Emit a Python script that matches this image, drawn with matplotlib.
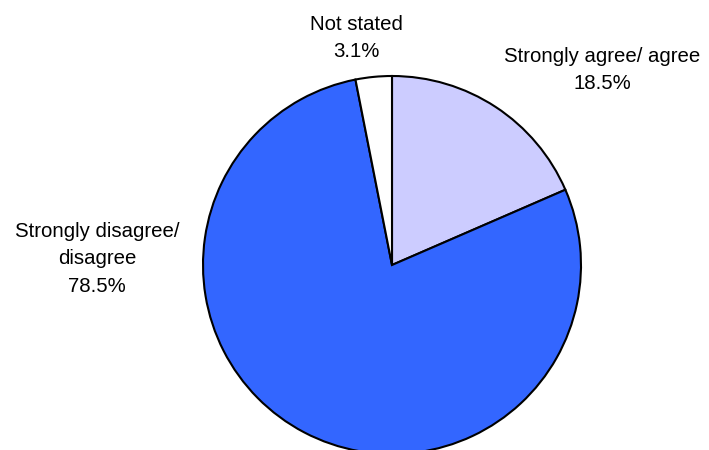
import matplotlib.pyplot as plt

plt.rcParams['font.family'] = ['Liberation Sans', 'DejaVu Sans']

# data
labels = ["Strongly agree/ agree", "Strongly disagree/\ndisagree", "Not stated"]
values = [18.5, 78.5, 3.1]
colors = ["#CCCCFF", "#3366FF", "#FFFFFF"]

# label text centres in pixel space (x, y from top)
label_pos = [(602, 70), (97, 259), (356, 38)]

W, H = 709, 450
fig = plt.figure(figsize=(W / 100, H / 100), dpi=100)
ax = fig.add_axes([0, 0, 1, 1])

cx, cy, r = 392, 265, 189
ax.pie(values, colors=colors, startangle=90, counterclock=False,
       center=(cx, H - cy), radius=r,
       wedgeprops=dict(edgecolor="black", linewidth=1.5))

for lab, val, (x, y) in zip(labels, values, label_pos):
    ax.text(x, H - y, f"{lab}\n{val:.1f}%", ha="center", va="center",
            fontsize=14.7, linespacing=1.57)

ax.set_xlim(0, W)
ax.set_ylim(0, H)
ax.set_aspect("equal")
ax.axis("off")

fig.savefig("out.png", dpi=100)
